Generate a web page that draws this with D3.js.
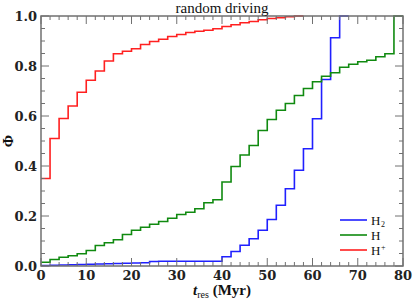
<!DOCTYPE html>
<html>
<head>
<meta charset="utf-8">
<script src="https://cdn.jsdelivr.net/npm/d3@7"></script>
<style>
  body { margin: 0; background: #fff; }
  svg { display: block; }
</style>
</head>
<body>
<div id="chart"></div>
<script>
// Cumulative residence time distributions, 2 Myr bins starting at t = 0
const binWidth = 2;
const h2Values = [0.002, 0.003, 0.004, 0.005, 0.006, 0.007, 0.008, 0.009, 0.010, 0.011,
    0.012, 0.013, 0.018, 0.019, 0.019, 0.019, 0.019, 0.019, 0.019, 0.019,
    0.037, 0.058, 0.083, 0.109, 0.143, 0.186, 0.243, 0.309, 0.383, 0.469,
    0.589, 0.746, 0.913, 1.0];
const hValues = [0.015, 0.026, 0.035, 0.041, 0.049, 0.062, 0.082, 0.093, 0.105, 0.126,
    0.143, 0.155, 0.167, 0.178, 0.191, 0.206, 0.215, 0.229, 0.253, 0.265,
    0.336, 0.398, 0.444, 0.482, 0.542, 0.586, 0.623, 0.650, 0.682, 0.710,
    0.737, 0.759, 0.773, 0.795, 0.807, 0.817, 0.823, 0.837, 0.849, 1.0];
const hpValues = [0.35, 0.51, 0.59, 0.64, 0.695, 0.743, 0.78, 0.82, 0.849, 0.859,
    0.869, 0.886, 0.898, 0.907, 0.918, 0.926, 0.934, 0.939, 0.943, 0.949,
    0.958, 0.965, 0.973, 0.978, 0.985, 0.99, 0.993, 0.997, 1.0];

const xTicks = [0, 10, 20, 30, 40, 50, 60, 70, 80];
const yTicks = [0.0, 0.2, 0.4, 0.6, 0.8, 1.0];

const series = [
    { name: 'H2', values: h2Values, color: '#2020ff' },
    { name: 'H', values: hValues, color: '#108a10' },
    { name: 'H+', values: hpValues, color: '#ff2020' }
];

const width = 415, height = 301;
const margin = { top: 16, right: 12, bottom: 35, left: 41 };

const svg = d3.select('#chart')
    .append('svg')
    .attr('width', width)
    .attr('height', height);

const x = d3.scaleLinear().domain([0, 80]).range([margin.left, width - margin.right]);
const y = d3.scaleLinear().domain([0, 1]).range([height - margin.bottom, margin.top]);

const axisColor = '#707070';
const serif = '"DejaVu Serif", serif';

// Data first, frame on top like the original
const line = d3.line()
    .x(d => x(d[0]))
    .y(d => y(d[1]))
    .curve(d3.curveStepAfter);

series.forEach(s => {
    const pts = s.values.map((v, i) => [i * binWidth, v]);
    pts.push([s.values.length * binWidth, s.values[s.values.length - 1]]);
    svg.append('path')
        .datum(pts)
        .attr('d', line)
        .attr('fill', 'none')
        .attr('stroke', s.color)
        .attr('stroke-width', 1.6);
});

// Frame
svg.append('rect')
    .attr('x', x(0))
    .attr('y', y(1))
    .attr('width', x(80) - x(0))
    .attr('height', y(0) - y(1))
    .attr('fill', 'none')
    .attr('stroke', axisColor)
    .attr('stroke-width', 1.5);

// Ticks on all four sides, pointing inward
const xMinor = d3.range(0, 81, 2);
const yMinor = d3.range(0, 1.0001, 0.05);

xMinor.forEach(t => {
    const len = t % 10 === 0 ? 8 : 4;
    svg.append('line')
        .attr('x1', x(t)).attr('x2', x(t))
        .attr('y1', y(0)).attr('y2', y(0) - len)
        .attr('stroke', axisColor).attr('stroke-width', 1);
    svg.append('line')
        .attr('x1', x(t)).attr('x2', x(t))
        .attr('y1', y(1)).attr('y2', y(1) + len)
        .attr('stroke', axisColor).attr('stroke-width', 1);
});

yMinor.forEach((t, i) => {
    const len = i % 4 === 0 ? 8 : 4;
    svg.append('line')
        .attr('x1', x(0)).attr('x2', x(0) + len)
        .attr('y1', y(t)).attr('y2', y(t))
        .attr('stroke', axisColor).attr('stroke-width', 1);
    svg.append('line')
        .attr('x1', x(80)).attr('x2', x(80) - len)
        .attr('y1', y(t)).attr('y2', y(t))
        .attr('stroke', axisColor).attr('stroke-width', 1);
});

// Tick labels
xTicks.forEach(t => {
    svg.append('text')
        .attr('x', x(t))
        .attr('y', y(0) + 14)
        .attr('text-anchor', 'middle')
        .attr('font-family', serif)
        .attr('font-weight', 'bold')
        .attr('font-size', '13px')
        .attr('fill', '#222')
        .text(t);
});

yTicks.forEach(t => {
    svg.append('text')
        .attr('x', x(0) - 4)
        .attr('y', y(t) + 5)
        .attr('text-anchor', 'end')
        .attr('font-family', serif)
        .attr('font-weight', 'bold')
        .attr('font-size', '13px')
        .attr('fill', '#222')
        .text(t.toFixed(1));
});

// Title
svg.append('text')
    .attr('x', (x(0) + x(80)) / 2)
    .attr('y', 13)
    .attr('text-anchor', 'middle')
    .attr('font-family', '"Liberation Serif", serif')
    .attr('font-size', '15px')
    .attr('fill', '#111')
    .text('random driving');

// Axis titles
const xTitle = svg.append('text')
    .attr('x', (x(0) + x(80)) / 2)
    .attr('y', 295)
    .attr('text-anchor', 'middle')
    .attr('font-family', '"Liberation Serif", serif')
    .attr('font-size', '15px')
    .attr('font-weight', 'bold')
    .attr('fill', '#111');
xTitle.append('tspan').attr('font-style', 'italic').text('t');
xTitle.append('tspan').attr('font-size', '10px').attr('font-weight', 'normal').attr('dy', 3).text('res');
xTitle.append('tspan').attr('dy', -3).text(' (Myr)');

svg.append('text')
    .attr('transform', 'translate(13,' + ((y(0) + y(1)) / 2) + ') rotate(-90)')
    .attr('text-anchor', 'middle')
    .attr('font-family', '"Liberation Serif", serif')
    .attr('font-size', '15px')
    .attr('font-weight', 'bold')
    .attr('fill', '#111')
    .text('Φ');

// Legend
const legendLabels = [
    { base: 'H', sub: '2', sup: '' },
    { base: 'H', sub: '', sup: '' },
    { base: 'H', sub: '', sup: '+' }
];
legendLabels.forEach((lab, i) => {
    const ly = 220 + i * 15;
    svg.append('line')
        .attr('x1', 340).attr('x2', 367)
        .attr('y1', ly).attr('y2', ly)
        .attr('stroke', series[i].color)
        .attr('stroke-width', 1.6);
    svg.append('text')
        .attr('x', 371)
        .attr('y', ly + 5)
        .attr('font-family', '"Liberation Serif", serif')
        .attr('font-size', '13px')
        .attr('fill', '#111')
        .text(lab.base);
    if (lab.sub || lab.sup) {
        svg.append('text')
            .attr('x', 381)
            .attr('y', lab.sub ? ly + 7 : ly)
            .attr('font-family', '"Liberation Serif", serif')
            .attr('font-size', '8px')
            .attr('fill', '#111')
            .text(lab.sub || lab.sup);
    }
});
</script>
</body>
</html>
